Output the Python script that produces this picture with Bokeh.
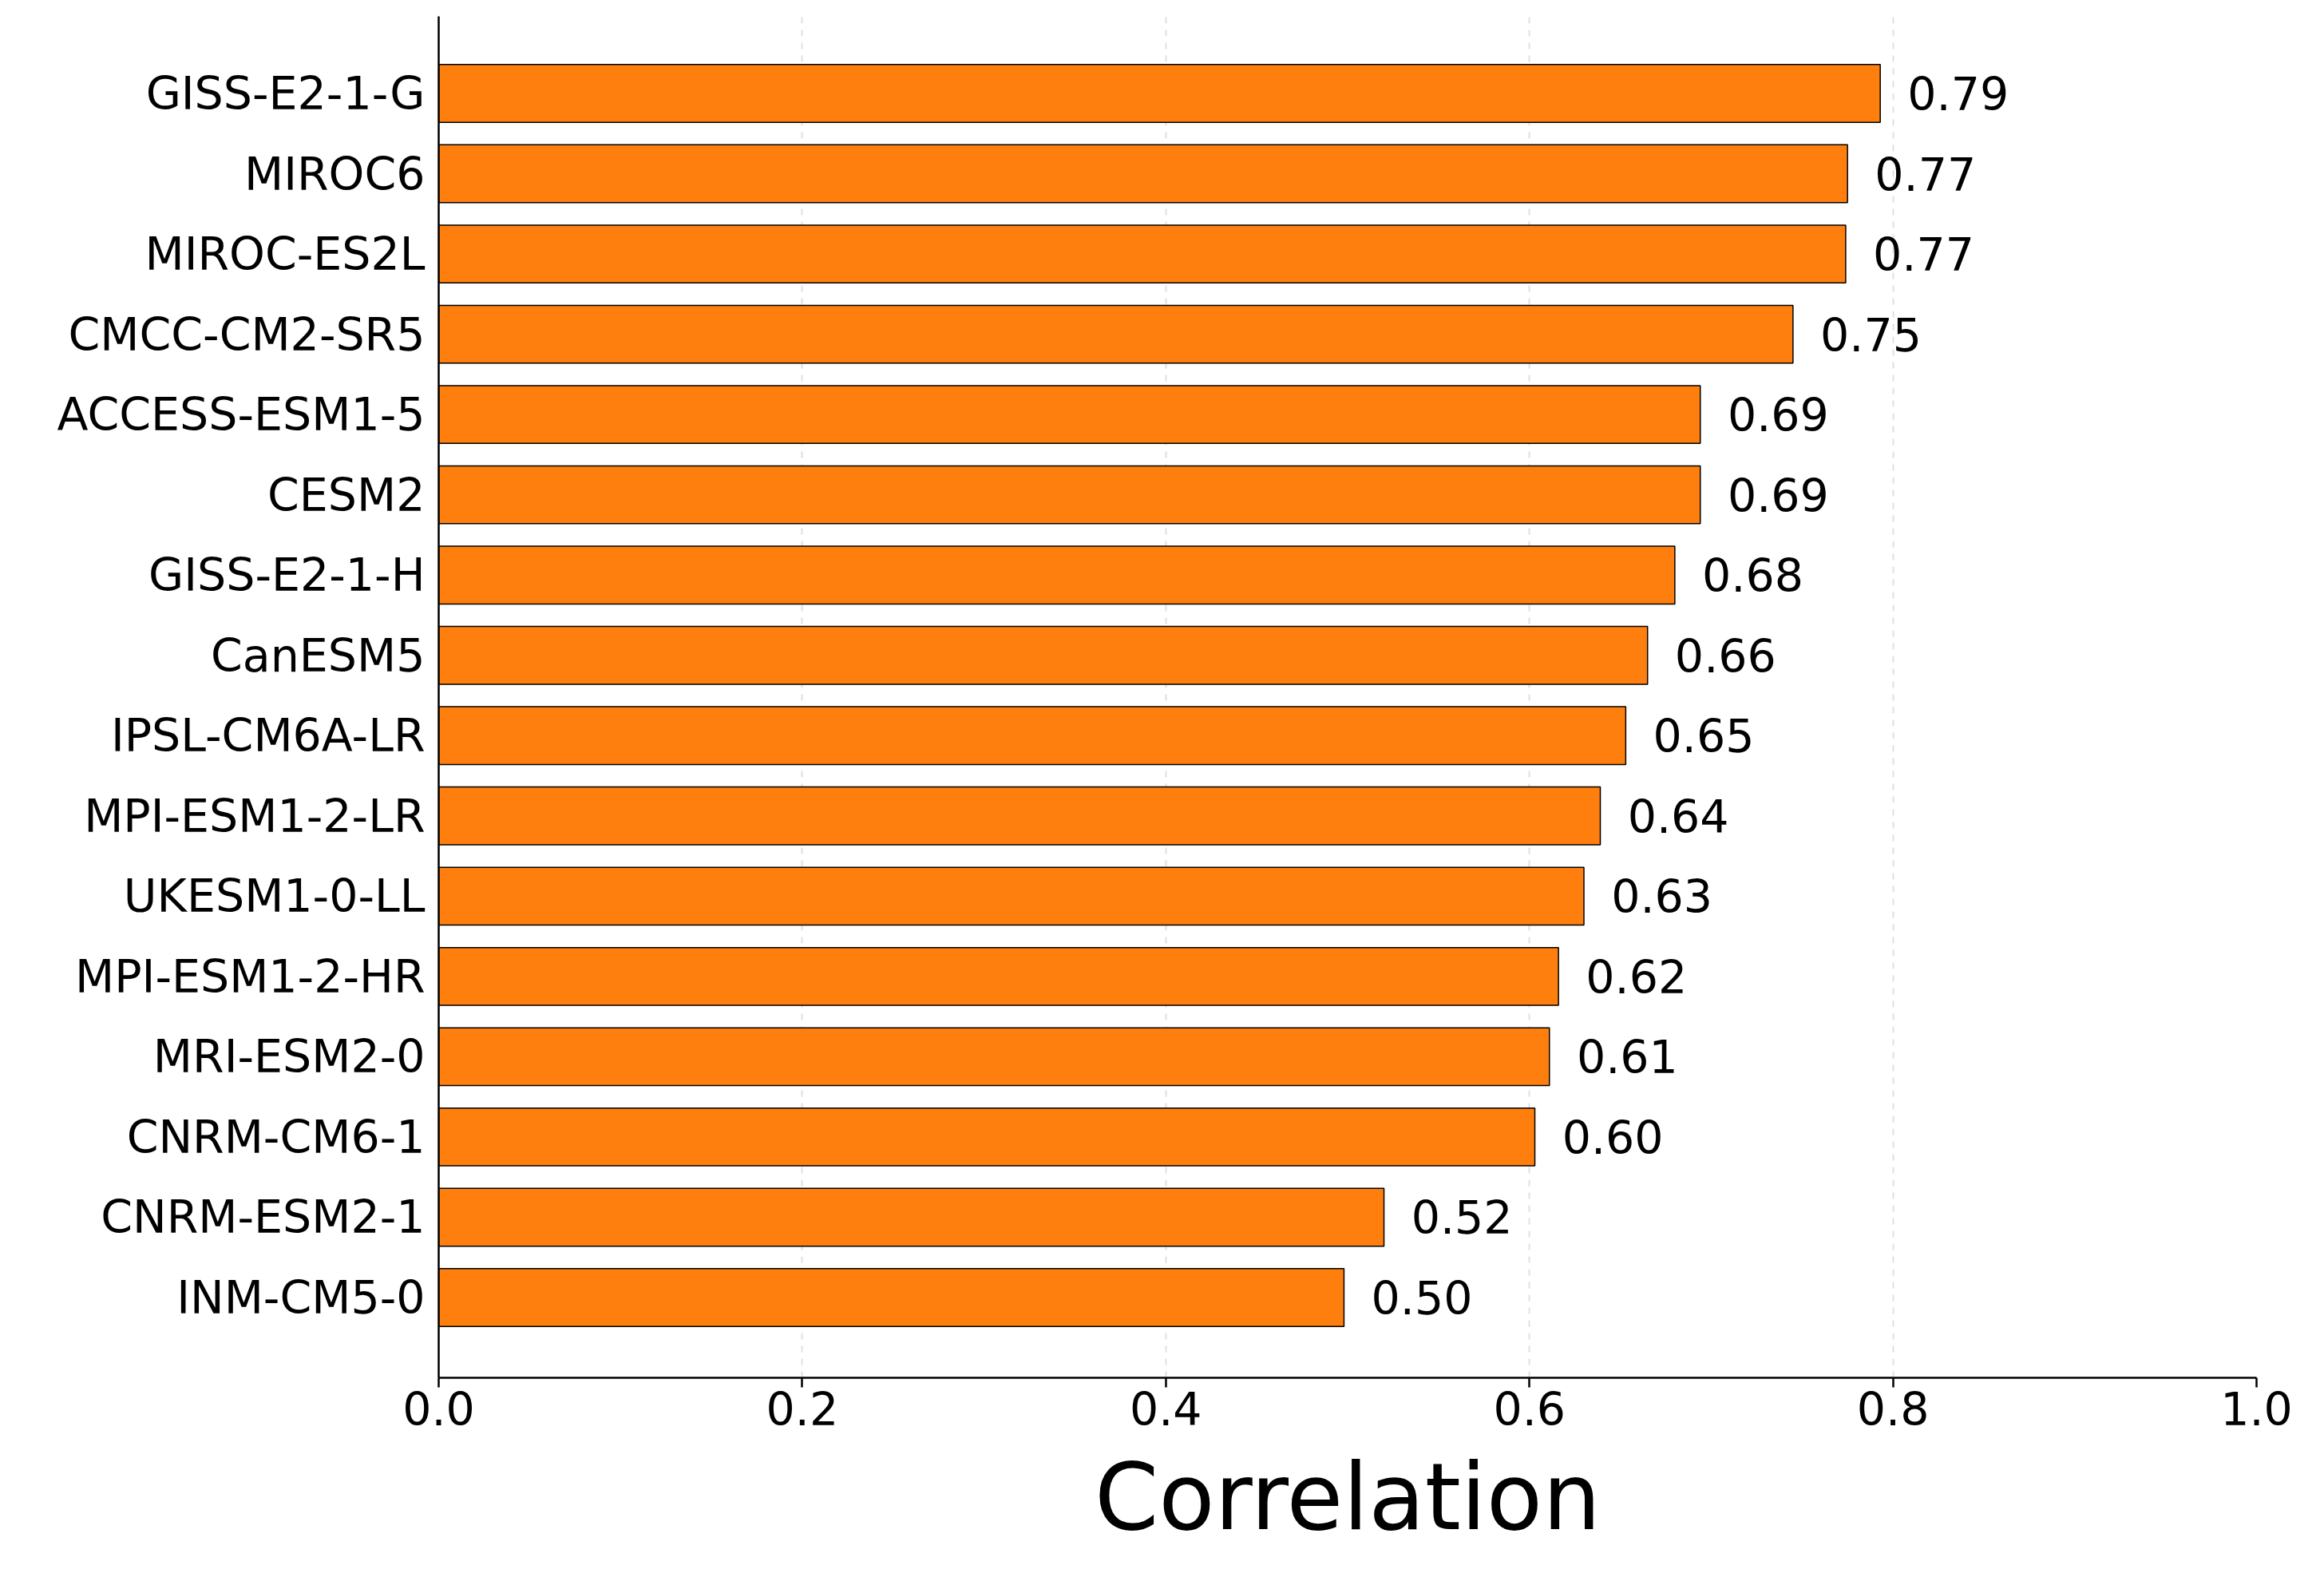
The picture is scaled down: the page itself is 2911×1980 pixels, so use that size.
from bokeh.plotting import figure
from bokeh.models import ColumnDataSource, FixedTicker
from bokeh.embed import file_html
from bokeh.resources import INLINE
from bokeh.core.properties import value

models = ["INM-CM5-0","CNRM-ESM2-1","CNRM-CM6-1","MRI-ESM2-0","MPI-ESM1-2-HR","UKESM1-0-LL",
          "MPI-ESM1-2-LR","IPSL-CM6A-LR","CanESM5","GISS-E2-1-H","CESM2","ACCESS-ESM1-5",
          "CMCC-CM2-SR5","MIROC-ES2L","MIROC6","GISS-E2-1-G"]
corr = [0.498,0.520,0.603,0.611,0.616,0.630,0.639,0.653,0.665,0.680,0.694,0.694,0.745,0.774,0.775,0.793]
labels = ["0.50","0.52","0.60","0.61","0.62","0.63","0.64","0.65","0.66","0.68","0.69","0.69","0.75","0.77","0.77","0.79"]

idx = list(range(len(models)))
src = ColumnDataSource(dict(y=idx, v=corr, lab=labels, lx=[c + 0.015 for c in corr]))

p = figure(width=2895, height=1960, x_range=(0, 1.0), y_range=(-1.0, 15.96),
           output_backend="svg", toolbar_location=None,
           min_border_left=549, min_border_right=69, min_border_top=20, min_border_bottom=235)
p.outline_line_color = None
p.hbar(y="y", left=0, right="v", height=0.72, source=src, fill_color="#ff7f0e",
       line_color="black", line_width=1.5)
p.text(x="lx", y="y", text="lab", source=src, text_font=value("DejaVu Sans"),
       text_font_size="57px", text_baseline="middle", text_align="left", text_color="black")

p.xaxis.ticker = FixedTicker(ticks=[0, 0.2, 0.4, 0.6, 0.8, 1.0])
p.xaxis.major_label_overrides = {0: "0.0", 0.2: "0.2", 0.4: "0.4", 0.6: "0.6", 0.8: "0.8", 1.0: "1.0"}
p.yaxis.ticker = FixedTicker(ticks=idx)
p.yaxis.major_label_overrides = {i: m for i, m in enumerate(models)}
for ax in (p.xaxis, p.yaxis):
    ax.major_label_text_font = "DejaVu Sans"
    ax.major_label_text_font_size = "57px"
    ax.major_label_text_color = "black"
    ax.axis_line_width = 2.5
    ax.axis_line_color = "black"
    ax.major_tick_line_width = 2.5
    ax.major_tick_out = 12
    ax.major_tick_in = 0
    ax.minor_tick_line_color = None
p.xaxis.axis_label = "Correlation"
p.xaxis.axis_label_text_font = "DejaVu Sans"
p.xaxis.axis_label_text_font_size = "115px"
p.xaxis.axis_label_text_font_style = "normal"
p.xaxis.axis_label_text_color = "black"
p.xaxis.axis_label_standoff = 20
p.yaxis.major_tick_line_color = None
p.ygrid.grid_line_color = None
p.xgrid.grid_line_color = "#cccccc"
p.xgrid.grid_line_dash = "8 8"
p.xgrid.grid_line_width = 2
p.xgrid.grid_line_alpha = 0.6

open("out.html", "w").write(file_html(p, INLINE))
